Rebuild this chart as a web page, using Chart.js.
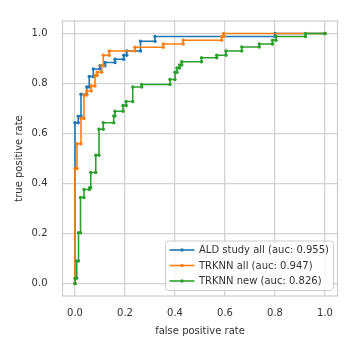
<!DOCTYPE html>
<html>
<head>
<meta charset="utf-8">
<script src="https://cdn.jsdelivr.net/npm/chart.js@4"></script>
<style>
  body { margin: 0; background: #fff; }
  #wrap { width: 352px; height: 352px; }
</style>
</head>
<body>
<div id="wrap"><canvas id="rocChart" width="352" height="352"></canvas></div>
<script>
// ROC points (false positive rate / true positive rate)
const aldFpr = [0, 0, 0.013, 0.013, 0.024, 0.024, 0.047, 0.047, 0.057, 0.057, 0.073, 0.073, 0.10, 0.10, 0.12, 0.12, 0.16, 0.16, 0.195, 0.195, 0.207, 0.207, 0.262, 0.262, 0.32, 0.32, 0.80, 0.80, 1.0];
const aldTpr = [0, 0.643, 0.643, 0.669, 0.669, 0.757, 0.757, 0.786, 0.786, 0.828, 0.828, 0.858, 0.858, 0.871, 0.871, 0.884, 0.884, 0.897, 0.897, 0.913, 0.913, 0.93, 0.93, 0.969, 0.969, 0.988, 0.988, 1.0, 1.0];

const trkAllFpr = [0, 0, 0.008, 0.008, 0.024, 0.024, 0.036, 0.036, 0.047, 0.047, 0.065, 0.065, 0.08, 0.08, 0.089, 0.089, 0.107, 0.107, 0.113, 0.113, 0.137, 0.137, 0.24, 0.24, 0.353, 0.353, 0.433, 0.433, 0.587, 0.587, 0.595, 0.595, 1.0];
const trkAllTpr = [0, 0.46, 0.46, 0.559, 0.559, 0.66, 0.66, 0.754, 0.754, 0.77, 0.77, 0.79, 0.79, 0.832, 0.832, 0.845, 0.845, 0.871, 0.871, 0.913, 0.913, 0.93, 0.93, 0.945, 0.945, 0.958, 0.958, 0.973, 0.973, 0.988, 0.988, 1.0, 1.0];

const trkNewFpr = [0, 0, 0.007, 0.007, 0.014, 0.014, 0.022, 0.022, 0.036, 0.036, 0.058, 0.058, 0.063, 0.063, 0.083, 0.083, 0.096, 0.096, 0.113, 0.113, 0.155, 0.155, 0.16, 0.16, 0.192, 0.192, 0.205, 0.205, 0.231, 0.231, 0.267, 0.267, 0.38, 0.38, 0.40, 0.40, 0.408, 0.408, 0.418, 0.418, 0.427, 0.427, 0.506, 0.506, 0.567, 0.567, 0.604, 0.604, 0.667, 0.667, 0.737, 0.737, 0.79, 0.79, 0.804, 0.804, 0.922, 0.922, 1.0];
const trkNewTpr = [0, 0.021, 0.021, 0.09, 0.09, 0.203, 0.203, 0.344, 0.344, 0.376, 0.376, 0.383, 0.383, 0.444, 0.444, 0.513, 0.513, 0.617, 0.617, 0.643, 0.643, 0.67, 0.67, 0.689, 0.689, 0.712, 0.712, 0.728, 0.728, 0.786, 0.786, 0.796, 0.796, 0.816, 0.816, 0.845, 0.845, 0.862, 0.862, 0.874, 0.874, 0.887, 0.887, 0.903, 0.903, 0.913, 0.913, 0.93, 0.93, 0.946, 0.946, 0.958, 0.958, 0.973, 0.973, 0.988, 0.988, 1.0, 1.0];

const seriesLabels = ['ALD study all (auc: 0.955)', 'TRKNN all (auc: 0.947)', 'TRKNN new (auc: 0.826)'];
const xTicks = [0, 0.2, 0.4, 0.6, 0.8, 1.0];
const yTicks = [0, 0.2, 0.4, 0.6, 0.8, 1.0];

const FONT = '"DejaVu Sans", sans-serif';
const gridColor = '#d2d2d2';
const textColor = '#333333';

function toPoints(xs, ys) {
  return xs.map((x, i) => ({ x: x, y: ys[i] }));
}

function makeSet(label, xs, ys, color, order) {
  return {
    label: label,
    data: toPoints(xs, ys),
    borderColor: color,
    backgroundColor: color,
    borderWidth: 1.6,
    pointRadius: 1.7,
    pointBorderWidth: 0,
    pointBackgroundColor: color,
    tension: 0,
    order: order
  };
}

// light frame round the plot area (all four sides)
const frame = {
  id: 'frame',
  beforeDatasetsDraw(chart) {
    const { ctx, chartArea: a } = chart;
    ctx.save();
    ctx.strokeStyle = gridColor;
    ctx.lineWidth = 1.3;
    ctx.strokeRect(a.left, a.top, a.right - a.left, a.bottom - a.top);
    ctx.restore();
  }
};

// legend box in the lower right corner of the plot
const legendBox = {
  id: 'legendBox',
  afterDraw(chart) {
    const { ctx, chartArea: a } = chart;
    const sets = chart.data.datasets;
    ctx.save();
    ctx.font = '10px ' + FONT;
    const textW = Math.max(...sets.map(d => ctx.measureText(d.label).width));
    const right = a.right - 4, bottom = a.bottom - 5.5;
    const rowH = 15.5;
    const h = sets.length * rowH + 3;
    const w = textW + 38;
    const left = right - w, top = bottom - h;
    ctx.beginPath();
    ctx.roundRect(left, top, w, h, 3);
    ctx.fillStyle = 'rgba(255,255,255,0.8)';
    ctx.fill();
    ctx.strokeStyle = '#cccccc';
    ctx.lineWidth = 1;
    ctx.stroke();
    sets.forEach((d, i) => {
      const y = top + 9 + i * rowH;
      ctx.strokeStyle = d.borderColor;
      ctx.lineWidth = 1.6;
      ctx.beginPath();
      ctx.moveTo(left + 4, y);
      ctx.lineTo(left + 29, y);
      ctx.stroke();
      ctx.fillStyle = d.borderColor;
      ctx.beginPath();
      ctx.arc(left + 16.5, y, 1.7, 0, Math.PI * 2);
      ctx.fill();
      ctx.fillStyle = textColor;
      ctx.textBaseline = 'middle';
      ctx.textAlign = 'left';
      ctx.fillText(d.label, left + 33.5, y + 0.5);
    });
    ctx.restore();
  }
};

const ctx = document.getElementById('rocChart').getContext('2d');
new Chart(ctx, {
  type: 'line',
  data: {
    datasets: [
      makeSet(seriesLabels[0], aldFpr, aldTpr, '#1f77b4', 3),
      makeSet(seriesLabels[1], trkAllFpr, trkAllTpr, '#ff7f0e', 2),
      makeSet(seriesLabels[2], trkNewFpr, trkNewTpr, '#2ca02c', 1)
    ]
  },
  options: {
    responsive: false,
    animation: false,
    layout: { padding: { left: 0, top: 14, right: 14.5, bottom: 0 } },
    plugins: {
      legend: { display: false },
      tooltip: { enabled: false }
    },
    scales: {
      x: {
        type: 'linear',
        min: -0.05,
        max: 1.05,
        afterBuildTicks: s => { s.ticks = xTicks.map(v => ({ value: v })); },
        afterFit: s => { s.height = 56; },
        grid: { color: gridColor, lineWidth: 1.3, drawTicks: false },
        border: { display: false },
        ticks: {
          padding: 11,
          color: textColor,
          font: { family: FONT, size: 10 },
          maxRotation: 0,
          callback: v => Number(v).toFixed(1)
        },
        title: {
          display: true,
          text: 'false positive rate',
          color: textColor,
          font: { family: FONT, size: 10 },
          padding: { top: 0, bottom: 15 }
        }
      },
      y: {
        type: 'linear',
        min: -0.05,
        max: 1.05,
        afterBuildTicks: s => { s.ticks = yTicks.map(v => ({ value: v })); },
        afterFit: s => { s.width = 62.5; },
        grid: { color: gridColor, lineWidth: 1.3, drawTicks: false },
        border: { display: false },
        ticks: {
          padding: 15,
          color: textColor,
          font: { family: FONT, size: 10 },
          callback: v => Number(v).toFixed(1)
        },
        title: {
          display: true,
          text: 'true positive rate',
          color: textColor,
          font: { family: FONT, size: 10 },
          padding: { top: 13, bottom: 0 }
        }
      }
    }
  },
  plugins: [frame, legendBox]
});
</script>
</body>
</html>
